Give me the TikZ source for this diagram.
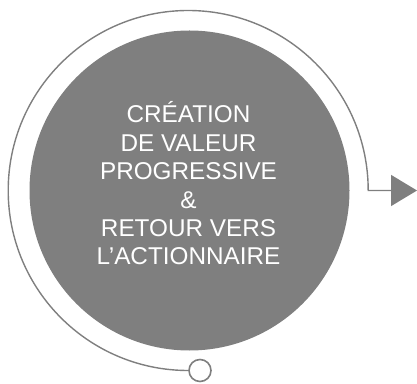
\documentclass[tikz,border=0pt]{standalone}
\usepackage{fontspec}
\setmainfont{Liberation Sans}
\usetikzlibrary{arrows.meta}
\definecolor{ringgray}{HTML}{7F7F7F}
\tikzstyle{core} = [
  circle,
  fill=ringgray,
  minimum size=320pt,
  inner sep=0pt,
]
\tikzstyle{coretext} = [
  text=white,
  align=center,
  font=\fontsize{24.3}{28.4}\selectfont,
]
\tikzstyle{knob} = [
  circle,
  draw=ringgray,
  fill=white,
  line width=1.6pt,
  minimum size=22pt,
  inner sep=0pt,
]
\tikzstyle{ring} = [
  draw=ringgray,
  line width=1.4pt,
]

\begin{document}
\begin{tikzpicture}[
    x=1pt,
    y=1pt,
  ]
  \useasboundingbox (0,0) rectangle (417,383);
  \node[core]
  (core) at (189.5,192.5) {};
  \node[coretext]
  (title) at (188.5,199.5)
  {CRÉATION\\DE VALEUR\\PROGRESSIVE\\\&\\RETOUR VERS\\L’ACTIONNAIRE};
  \node[knob]
  (knob) at (200,12.5) {};
  \coordinate (exit) at (417,192.5);
  \path [ring, -{Triangle[length=26pt,width=31pt]}]
    (knob.west) arc[start angle=270, end angle=0, radius=180] -- (exit);
\end{tikzpicture}
\end{document}
